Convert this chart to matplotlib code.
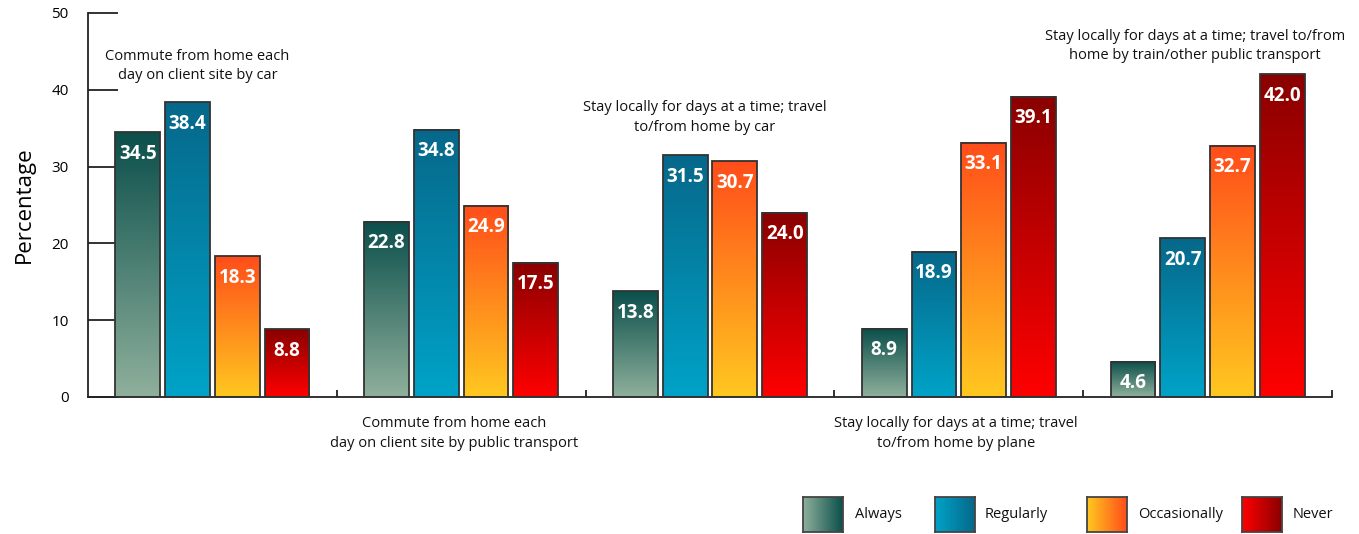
import numpy as np
import matplotlib.pyplot as plt
from matplotlib.colors import LinearSegmentedColormap

plt.rcParams["font.family"] = ["Open Sans", "DejaVu Sans"]

groups = [
    "Commute from home each\nday on client site by car",
    "Commute from home each\nday on client site by public transport",
    "Stay locally for days at a time; travel\nto/from home by car",
    "Stay locally for days at a time; travel\nto/from home by plane",
    "Stay locally for days at a time; travel to/from\nhome by train/other public transport",
]
series = ["Always", "Regularly", "Occasionally", "Never"]
always = [34.5, 22.8, 13.8, 8.9, 4.6]
regularly = [38.4, 34.8, 31.5, 18.9, 20.7]
occasionally = [18.3, 24.9, 30.7, 33.1, 32.7]
never = [8.8, 17.5, 24.0, 39.1, 42.0]
values = [always, regularly, occasionally, never]

# gradient colours per series: (top of bar, bottom of bar)
grad_colors = [
    ("#0b4f4b", "#8fb09c"),
    ("#06688a", "#00a3c8"),
    ("#ff4d1a", "#ffc820"),
    ("#8a0000", "#ff0000"),
]
cmaps = [LinearSegmentedColormap.from_list(s, c) for s, c in zip(series, grad_colors)]

W, H = 1359, 534
fig = plt.figure(figsize=(W / 100, H / 100), dpi=100)
ax = fig.add_axes([88 / W, (H - 397) / H, (1332 - 88) / W, (397 - 13) / H])

vgrad = np.linspace(0, 1, 256).reshape(-1, 1)
step, width = 0.2, 0.18
for k, vals in enumerate(values):
    offs = (k - 1.5) * step
    for i, v in enumerate(vals):
        x = i + 0.5 + offs
        ax.imshow(vgrad, cmap=cmaps[k], extent=(x - width / 2, x + width / 2, 0, v),
                  aspect="auto", zorder=2)
        ax.text(x, v - 1.5, f"{v:.1f}", ha="center", va="top", color="white",
                fontsize=13.5, fontweight="bold", zorder=4)
    ax.bar([i + 0.5 + offs for i in range(len(vals))], vals, width=width,
           fill=False, edgecolor="#333333", linewidth=1.3, zorder=3)

ax.set_xlim(0, 5)
ax.set_ylim(0, 50)
for s in ["top", "right"]:
    ax.spines[s].set_visible(False)
for s in ["left", "bottom"]:
    ax.spines[s].set_linewidth(1.3)
    ax.spines[s].set_color("#222222")

ax.set_yticks(range(0, 51, 10))
ax.tick_params(axis="y", direction="in", length=21.5, width=1.3, color="#222222",
               pad=14, labelsize=11)
ax.set_xticks([1, 2, 3, 4, 5])
ax.set_xticklabels([])
ax.tick_params(axis="x", direction="in", length=5, width=1.3, color="#222222")
ax.set_ylabel("Percentage", fontsize=16, labelpad=12)

# category labels alternate above the bars and below the axis
label_pos = [(0.44, 43.1), (1.47, -4.8), (2.48, 36.4), (3.49, -4.8), (4.45, 45.7)]
for name, (lx, ly) in zip(groups, label_pos):
    ax.text(lx, ly, name, ha="center", va="center", fontsize=10.5,
            linespacing=1.45, color="#111111", clip_on=False)

# legend with horizontal gradient swatches
hgrad = np.linspace(1, 0, 256).reshape(1, -1)
swatch_x = [803, 935, 1087, 1242]
text_x = [855, 985, 1138, 1293]
for k, name in enumerate(series):
    sax = fig.add_axes([swatch_x[k] / W, (H - 532) / H, 40 / W, 35 / H])
    sax.imshow(hgrad, cmap=cmaps[k], aspect="auto")
    sax.set_xticks([])
    sax.set_yticks([])
    for sp in sax.spines.values():
        sp.set_color("#444444")
        sp.set_linewidth(1.3)
    fig.text(text_x[k] / W, (H - 514) / H, name, ha="left", va="center",
             fontsize=10.5, color="#111111")

fig.savefig("out.png", dpi=100)
